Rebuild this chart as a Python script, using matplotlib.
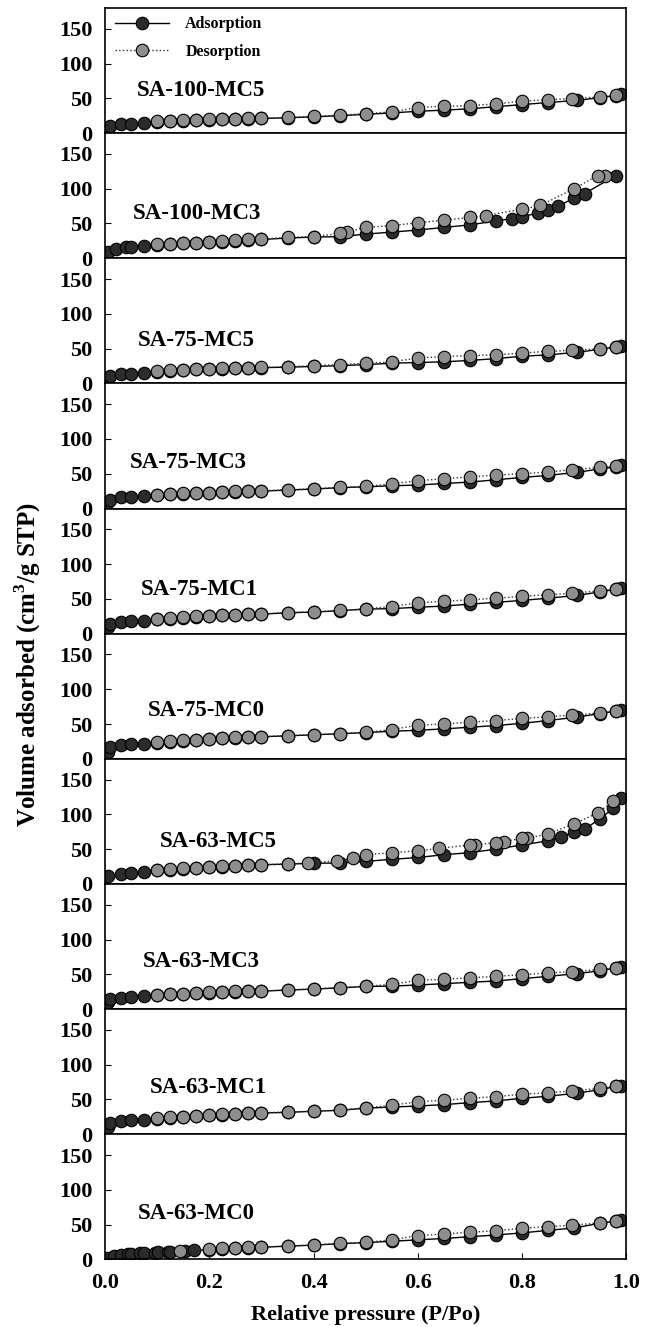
import numpy as np
import matplotlib
matplotlib.use('Agg')
import matplotlib.pyplot as plt

plt.rcParams['font.family'] = ['Liberation Serif', 'DejaVu Serif']
plt.rcParams['font.weight'] = 'bold'
plt.rcParams['mathtext.fontset'] = 'custom'
plt.rcParams['mathtext.bf'] = 'Liberation Serif:bold'
plt.rcParams['mathtext.rm'] = 'Liberation Serif:bold'

# shared relative pressure points (most samples)
p_ads = [0.005, 0.01, 0.03, 0.05, 0.075, 0.10, 0.125, 0.15, 0.175, 0.20, 0.225, 0.25, 0.275, 0.30,
         0.35, 0.40, 0.45, 0.50, 0.55, 0.60, 0.65, 0.70, 0.75, 0.80, 0.85, 0.905, 0.95, 0.98, 0.99]
p_des = [0.98, 0.95, 0.895, 0.85, 0.80, 0.75, 0.70, 0.65, 0.60, 0.55, 0.50, 0.45, 0.40, 0.35,
         0.30, 0.275, 0.25, 0.225, 0.20, 0.175, 0.15, 0.125, 0.10]

# SA-100-MC5
ads_100_mc5 = [6.7, 10, 12.9, 13.5, 14, 16, 17, 18, 18.8, 19.3, 19.8, 20.2, 20.6, 21, 22, 23.5, 25, 27, 29,
               31.4, 33, 35, 38, 41, 44, 47, 51, 54, 55.7]
des_100_mc5 = [54.3, 52, 49.5, 48, 46, 42, 39.5, 38.6, 36.7, 30.5, 28, 25.7, 24, 22.5, 21.5, 21, 20.8, 20.4,
               20, 19.5, 19, 18, 17]

# SA-100-MC3 (own pressure points)
p_ads_100_mc3 = [0.002, 0.005, 0.02, 0.04, 0.05, 0.075, 0.10, 0.125, 0.15, 0.175, 0.20, 0.225, 0.25, 0.275,
                 0.30, 0.35, 0.40, 0.45, 0.50, 0.55, 0.60, 0.65, 0.70, 0.75, 0.78, 0.80, 0.83, 0.85, 0.87,
                 0.90, 0.92, 0.98]
ads_100_mc3 = [6, 9, 14, 15.5, 16.5, 17.4, 19.5, 20.5, 21.5, 22, 23, 24, 25, 26, 27, 29, 30.5, 31, 34.7, 37.6,
               40.5, 44.3, 48, 53.7, 57, 59.5, 65, 69, 74.7, 87, 93, 119]
p_des_100_mc3 = [0.96, 0.945, 0.90, 0.835, 0.80, 0.73, 0.70, 0.65, 0.60, 0.55, 0.50, 0.465, 0.45, 0.40,
                 0.35, 0.30, 0.275, 0.25, 0.225, 0.20, 0.175, 0.15, 0.125, 0.10]
des_100_mc3 = [119, 119, 100, 76, 70.4, 61.4, 58.6, 54.7, 51, 47, 44.3, 38, 35.7, 31, 30, 27.5, 27, 26, 25,
               23.5, 22.6, 22, 21, 20]

# SA-75-MC5
ads_75_mc5 = [7, 10.5, 13, 14, 15.4, 17, 18, 19, 20, 20.7, 21.3, 21.8, 22.3, 22.6, 23.3, 24.3, 25.5, 27, 29,
              30, 31, 33, 35.6, 39, 41, 44.7, 49, 52, 53.4]
des_75_mc5 = [52, 50, 47.6, 46, 43.7, 41, 40, 38.5, 36.5, 31, 29, 27, 25.5, 24, 23, 22.6, 22.2, 21.6, 21,
              20.4, 19.6, 18.6, 17.8]

# SA-75-MC3
ads_75_mc3 = [8.7, 12.5, 15.9, 16.3, 17.3, 19.3, 20.3, 21, 22, 22.5, 23.4, 24, 25, 25, 26.5, 28, 30, 31.2,
              32.7, 33.7, 36, 38, 41.3, 44.7, 47.6, 52, 57, 60, 62]
des_75_mc3 = [61.5, 59, 55.8, 52.4, 50, 48, 45.7, 42.8, 40, 35.6, 31.7, 30.3, 28.4, 27, 25.5, 25.5, 24.5, 24,
              23, 22.6, 21.6, 21, 20]

# SA-75-MC1
ads_75_mc1 = [10, 14, 16.4, 17.5, 18.8, 20.5, 21.5, 23, 24.5, 25.5, 26.5, 27, 27.7, 28, 30, 31, 33, 35.3, 36,
              38, 39.6, 42.5, 45, 47.8, 51, 55, 60, 63.8, 65]
des_75_mc1 = [63.8, 61.8, 58, 56, 53.6, 51, 48.8, 46.4, 44.4, 39, 35.7, 33.3, 31.4, 30.4, 28.5, 28, 27.5, 27,
              26, 25, 23.6, 22, 21]

# SA-75-MC0
ads_75_mc0 = [9.7, 16.4, 20.3, 21, 21.7, 23, 24.5, 26, 27, 28.5, 29.5, 30.5, 31, 31.6, 33, 34.5, 36, 37.7,
              39.6, 41, 43, 45.4, 47.8, 51, 55, 60, 65, 68.6, 69.6]
des_75_mc0 = [68.6, 66, 62.8, 60.4, 58, 55, 52.7, 50.2, 48.3, 42, 38, 36.2, 34.8, 33.3, 32, 31.4, 31, 30, 29,
              27.5, 26.6, 25, 23.7]

# SA-63-MC5 (own pressure points)
p_ads_63_mc5 = [0.005, 0.03, 0.05, 0.075, 0.10, 0.125, 0.15, 0.175, 0.20, 0.225, 0.25, 0.275, 0.30, 0.35,
                0.40, 0.45, 0.50, 0.55, 0.60, 0.65, 0.70, 0.75, 0.80, 0.85, 0.875, 0.90, 0.92, 0.95, 0.975,
                0.99]
ads_63_mc5 = [11, 13.9, 15.8, 17.2, 19.5, 20.5, 22, 23, 24, 25, 25.5, 26.5, 27.5, 28.5, 29.7, 30, 32.5, 35.3,
              38, 42, 45, 50, 56, 62, 67.5, 74, 78.5, 94, 108.5, 124]
p_des_63_mc5 = [0.975, 0.945, 0.90, 0.85, 0.81, 0.80, 0.765, 0.75, 0.71, 0.70, 0.64, 0.60, 0.55, 0.50, 0.475,
                0.445, 0.39, 0.35, 0.30, 0.275, 0.25, 0.225, 0.20, 0.175, 0.15, 0.125, 0.10]
des_63_mc5 = [119, 102, 86.5, 72, 65.5, 65.5, 61, 59.5, 56, 56, 51, 47.5, 45, 42, 37, 33, 30.6, 28.7, 27.8,
              26.8, 25.8, 25.4, 24.4, 23.4, 23, 21, 20.6]

# SA-63-MC3
ads_63_mc3 = [10.6, 14, 16, 17.4, 18.5, 19.8, 21, 21.8, 23.3, 23.8, 24.6, 25.2, 25.7, 25.8, 27.3, 28.7, 30.5,
              32.5, 33, 34.6, 36.5, 38.5, 40.4, 43.7, 47, 51, 55, 59, 60]
des_63_mc3 = [59, 57, 53.8, 52, 49.5, 47, 45, 42.8, 41.3, 35.6, 32.7, 30.8, 29, 27.5, 26, 26, 25.5, 25, 24,
              23.7, 22.2, 21.3, 20.3]

# SA-63-MC1
ads_63_mc1 = [10, 15.9, 18.8, 20.2, 21, 22, 23.5, 24.5, 26, 27, 28, 29, 30, 30.5, 31.4, 33, 34.3, 37.5, 39,
              40.5, 42.5, 45.4, 47.8, 51.7, 54.6, 59, 64, 68.6, 69.6]
des_63_mc1 = [68.6, 66, 62.3, 59.4, 57.5, 54, 51.7, 48.8, 46.8, 41.5, 38, 34.6, 33.2, 31.7, 31, 30.3, 29.3,
              28.4, 27.4, 26.4, 25, 24.5, 22.6]

# SA-63-MC0 (own pressure points)
p_ads_63_mc0 = [0.004, 0.017, 0.03, 0.043, 0.05, 0.067, 0.075, 0.096, 0.102, 0.12, 0.125, 0.154, 0.171, 0.20,
                0.225, 0.25, 0.275, 0.30, 0.35, 0.40, 0.45, 0.50, 0.55, 0.60, 0.65, 0.70, 0.75, 0.80, 0.85,
                0.90, 0.95, 0.98, 0.99]
ads_63_mc0 = [2.5, 4.5, 6, 7.3, 8, 8.5, 8.8, 9.5, 10, 10.5, 10.8, 12, 12.8, 14, 15.5, 16, 17, 17.3, 19, 20.4,
              22.5, 24, 26, 28, 30, 32.5, 35, 38, 41.7, 45, 52, 54.5, 56]
p_des_63_mc0 = [0.98, 0.95, 0.895, 0.85, 0.80, 0.75, 0.70, 0.65, 0.60, 0.55, 0.50, 0.45, 0.40, 0.35, 0.30,
                0.275, 0.25, 0.225, 0.20, 0.143]
des_63_mc0 = [55, 52.4, 49, 47, 44.7, 41, 39, 36.4, 34, 28, 24.5, 23, 20.5, 19.2, 17.8, 17.5, 16.6, 16, 14.8, 12]

names = ['SA-100-MC5', 'SA-100-MC3', 'SA-75-MC5', 'SA-75-MC3', 'SA-75-MC1',
         'SA-75-MC0', 'SA-63-MC5', 'SA-63-MC3', 'SA-63-MC1', 'SA-63-MC0']
panels = [
    (p_ads, ads_100_mc5, p_des, des_100_mc5),
    (p_ads_100_mc3, ads_100_mc3, p_des_100_mc3, des_100_mc3),
    (p_ads, ads_75_mc5, p_des, des_75_mc5),
    (p_ads, ads_75_mc3, p_des, des_75_mc3),
    (p_ads, ads_75_mc1, p_des, des_75_mc1),
    (p_ads, ads_75_mc0, p_des, des_75_mc0),
    (p_ads_63_mc5, ads_63_mc5, p_des_63_mc5, des_63_mc5),
    (p_ads, ads_63_mc3, p_des, des_63_mc3),
    (p_ads, ads_63_mc1, p_des, des_63_mc1),
    (p_ads_63_mc0, ads_63_mc0, p_des_63_mc0, des_63_mc0),
]
# where each sample name sits (axes x fraction, data y)
label_pos = [(0.061, 61), (0.054, 64), (0.063, 61), (0.048, 66), (0.068, 64),
             (0.082, 70), (0.105, 61), (0.072, 69), (0.086, 67), (0.063, 66)]

dark = '#2b2b2b'
grey = '#8e8e8e'

fig, axes = plt.subplots(10, 1, figsize=(6.53, 13.27), dpi=100, sharex=True)
fig.subplots_adjust(left=0.161, right=0.959, top=0.994, bottom=0.051, hspace=0)

for i, ax in enumerate(axes):
    pa, va, pd, vd = panels[i]
    ax.plot(pa, va, '-', color='black', lw=1.0, marker='o', ms=9,
            mfc=dark, mec='black', mew=0.8, label='Adsorption')
    ax.plot(pd, vd, ':', color='#333333', lw=1.0, marker='o', ms=9,
            mfc=grey, mec='black', mew=0.8, label='Desorption')
    ax.set_xlim(0, 1.0)
    ax.set_ylim(0, 180)
    ax.set_yticks([0, 50, 100, 150])
    ax.tick_params(axis='y', direction='in', length=4, labelsize=16, pad=9)
    ax.tick_params(axis='x', direction='in', length=4, labelsize=16, pad=10)
    if i < 9:
        ax.tick_params(axis='x', length=0)
    for sp in ax.spines.values():
        sp.set_linewidth(1.2)
    for lab in ax.get_yticklabels() + ax.get_xticklabels():
        lab.set_fontweight('bold')
    lx, ly = label_pos[i]
    ax.text(lx, ly, names[i], transform=ax.get_yaxis_transform(),
            fontsize=16.5, fontweight='bold', va='center', ha='left')

axes[-1].set_xticks([0.0, 0.2, 0.4, 0.6, 0.8, 1.0])
axes[-1].set_xticklabels(['0.0', '0.2', '0.4', '0.6', '0.8', '1.0'], fontweight='bold')

axes[0].legend(loc='upper left', bbox_to_anchor=(0.019, 0.935), frameon=False,
               handlelength=3.4, handletextpad=1.0, labelspacing=0.75,
               borderpad=0, borderaxespad=0, prop={'weight': 'bold', 'size': 11.5})

fig.text(0.56, 0.009, 'Relative pressure (P/Po)', ha='center', va='center',
         fontsize=16, fontweight='bold')
fig.text(0.042, 0.499, r'Volume adsorbed (cm$^{\mathbf{3}}$/g STP)', ha='center', va='center',
         rotation=90, fontsize=18, fontweight='bold')

plt.savefig('out.png', dpi=100)
